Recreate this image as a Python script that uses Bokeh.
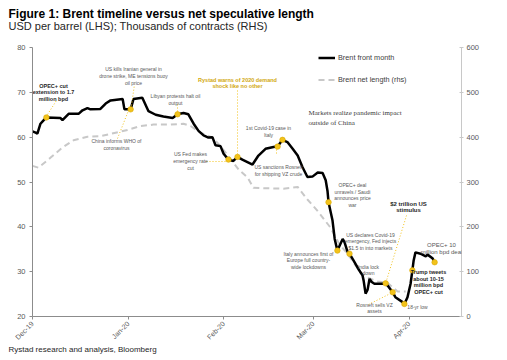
import math
import pandas as pd
from bokeh.plotting import figure
from bokeh.models import (Range1d, LinearAxis, FixedTicker, DatetimeTickFormatter,
                          Label, Legend, LegendItem, Title)
from bokeh.embed import file_html
from bokeh.resources import INLINE

# ---------------- data ----------------
brent_dates = [
    "2019-12-01 00:00", "2019-12-02 00:00", "2019-12-02 14:00", "2019-12-03 14:00", "2019-12-04 12:00",
    "2019-12-05 12:00", "2019-12-10 00:00", "2019-12-10 17:00", "2019-12-12 17:00", "2019-12-15 22:00",
    "2019-12-17 05:00", "2019-12-18 19:00", "2019-12-19 19:00", "2019-12-23 00:00", "2019-12-24 17:00",
    "2019-12-26 07:00", "2019-12-30 05:00", "2019-12-30 19:00", "2020-01-01 19:00", "2020-01-02 17:00",
    "2020-01-05 14:00", "2020-01-07 14:00", "2020-01-09 22:00", "2020-01-12 10:00", "2020-01-15 10:00",
    "2020-01-17 00:00", "2020-01-18 22:00", "2020-01-20 12:00", "2020-01-22 05:00", "2020-01-23 19:00",
    "2020-01-25 10:00", "2020-01-27 00:00", "2020-01-28 07:00", "2020-01-29 07:00", "2020-01-30 22:00",
    "2020-01-31 22:00", "2020-02-02 12:00", "2020-02-04 02:00", "2020-02-05 10:00", "2020-02-07 00:00",
    "2020-02-10 07:00", "2020-02-12 05:00", "2020-02-14 12:00", "2020-02-17 02:00", "2020-02-18 10:00",
    "2020-02-20 00:00", "2020-02-21 14:00", "2020-02-23 07:00", "2020-02-24 22:00", "2020-02-26 12:00",
    "2020-02-28 02:00", "2020-02-29 17:00", "2020-03-02 10:00", "2020-03-04 00:00", "2020-03-05 00:00",
    "2020-03-05 14:00", "2020-03-05 22:00", "2020-03-07 05:00", "2020-03-07 22:00", "2020-03-08 19:00",
    "2020-03-09 12:00", "2020-03-10 12:00", "2020-03-11 02:00", "2020-03-12 02:00", "2020-03-12 17:00",
    "2020-03-14 00:00", "2020-03-15 14:00", "2020-03-16 22:00", "2020-03-17 07:00", "2020-03-17 22:00",
    "2020-03-18 14:00", "2020-03-19 05:00", "2020-03-19 22:00", "2020-03-20 19:00", "2020-03-23 10:00",
    "2020-03-24 10:00", "2020-03-25 10:00", "2020-03-26 17:00", "2020-03-27 14:00", "2020-03-29 22:00",
    "2020-03-30 12:00", "2020-03-31 12:00", "2020-04-01 12:00", "2020-04-02 02:00", "2020-04-02 12:00",
    "2020-04-03 02:00", "2020-04-04 17:00", "2020-04-06 10:00", "2020-04-07 00:00", "2020-04-08 14:00",
    "2020-04-09 07:00",
]
brent_usd = [
    61.3, 61.0, 60.8, 63.0, 63.7,
    64.4, 64.3, 63.8, 65.2, 65.2,
    66.0, 66.5, 66.2, 66.3, 67.5,
    68.2, 68.5, 66.2, 66.2, 68.5,
    68.8, 65.8, 65.0, 64.6, 64.3,
    65.1, 65.4, 65.1, 63.0, 61.4,
    60.4, 59.9, 60.0, 58.2, 58.0,
    56.3, 55.0, 54.7, 55.6, 55.0,
    53.9, 55.9, 57.4, 57.8, 57.9,
    59.4, 58.9, 57.4, 55.9, 53.3,
    51.1, 51.2, 52.1, 52.0, 50.4,
    48.0, 45.5, 41.4, 37.3, 34.7,
    35.8, 37.3, 36.6, 34.4, 34.0,
    32.5, 30.6, 29.2, 28.0, 25.1,
    26.0, 28.4, 27.7, 27.3, 27.3,
    27.4, 26.6, 25.4, 24.3, 23.2,
    22.8, 24.3, 27.3, 30.3, 32.5,
    34.3, 34.0, 33.4, 33.8, 33.0,
    32.1,
]

net_dates = [
    "2019-12-01 00:00", "2019-12-02 22:00", "2019-12-06 19:00", "2019-12-10 17:00", "2019-12-14 07:00",
    "2019-12-18 19:00", "2019-12-23 00:00", "2019-12-27 22:00", "2019-12-31 19:00", "2020-01-05 00:00",
    "2020-01-09 05:00", "2020-01-14 17:00", "2020-01-18 22:00", "2020-01-21 05:00", "2020-01-24 10:00",
    "2020-01-28 07:00", "2020-01-30 22:00", "2020-02-03 05:00", "2020-02-05 19:00", "2020-02-08 17:00",
    "2020-02-10 14:00", "2020-02-15 02:00", "2020-02-20 07:00", "2020-02-24 22:00", "2020-02-28 02:00",
    "2020-03-02 10:00", "2020-03-06 14:00", "2020-03-09 05:00", "2020-03-11 10:00", "2020-03-13 00:00",
    "2020-03-16 07:00", "2020-03-18 22:00", "2020-03-21 19:00", "2020-03-25 00:00", "2020-03-28 07:00",
    "2020-03-30 22:00",
]
net_kcontracts = [
    336, 332, 354, 377, 393,
    401, 402, 410, 416, 425,
    428, 428, 430, 425, 410,
    399, 380, 351, 328, 310,
    287, 286, 285, 289, 261,
    235, 198, 164, 145, 131,
    97, 86, 78, 75, 56,
    56,
]

event_dates = [
    "2019-12-05 12:00", "2020-01-01 19:00", "2020-01-17 00:00", "2020-02-02 12:00", "2020-02-05 10:00",
    "2020-02-18 10:00", "2020-02-20 00:00", "2020-03-05 22:00", "2020-03-08 19:00", "2020-03-12 17:00",
    "2020-03-24 10:00", "2020-03-26 17:00", "2020-03-30 12:00", "2020-04-02 02:00", "2020-04-09 07:00",
]
event_usd = [64.4, 66.2, 65.1, 55.0, 55.6, 57.9, 59.4, 45.5, 34.7, 34.0, 27.4, 25.4, 22.8, 30.3, 32.1]

month_ticks = ["2019-12-01", "2020-01-01", "2020-02-01", "2020-03-01", "2020-04-01"]
left_ticks = [20, 30, 40, 50, 60, 70, 80]
right_ticks = [0, 100, 200, 300, 400, 500, 600]

title_text = "Figure 1: Brent timeline versus net speculative length"
subtitle_text = "USD per barrel (LHS); Thousands of contracts (RHS)"
source_text = "Rystad research and analysis, Bloomberg"
series_names = ["Brent front month", "Brent net length (rhs)"]

# ---------------- helpers ----------------
def ms(s):
    return pd.Timestamp(s).value / 1e6

X0, X1 = ms("2019-12-01"), ms("2020-04-18")
Y0, Y1 = 20, 80
W, H = 507, 360
BL, BR, BT, BB = 32, 46, 47, 44
FW, FH = W - BL - BR, H - BT - BB
PAGE = 0
TEXT_LEFT = 8

def px(x):  # page pixel -> data x
    return X0 + (x - PAGE - BL) / FW * (X1 - X0)

def py(y):  # page pixel -> data y (left axis)
    return Y1 - (y - PAGE - BT) / FH * (Y1 - Y0)

FONT = "Liberation Sans"
GOLD = "#F2C21B"
GOLD_TXT = "#D1A70E"

p = figure(width=W, height=H, x_range=Range1d(X0, X1), y_range=Range1d(Y0, Y1),
           x_axis_type="datetime", output_backend="svg", toolbar_location=None,
           min_border_left=BL, min_border_right=BR, min_border_top=BT, min_border_bottom=BB,
           background_fill_color="white", border_fill_color="white")
p.outline_line_color = None
p.xgrid.visible = False
p.ygrid.visible = False

# titles (subtitle first: later-added titles sit further from the frame)
sub = Title(text=subtitle_text, align="left", offset=TEXT_LEFT - BL, standoff=31,
            text_font=FONT, text_font_size="11px", text_font_style="normal",
            text_color="#262626", text_line_height=1.0)
main = Title(text=title_text, align="left", offset=TEXT_LEFT - BL, standoff=-37,
             text_font=FONT, text_font_size="12px", text_font_style="bold",
             text_color="#000000", text_line_height=1.0)
p.add_layout(sub, "above")
p.add_layout(main, "above")

# x axis
xa = p.xaxis[0]
xa.ticker = FixedTicker(ticks=[ms(d) for d in month_ticks])
xa.formatter = DatetimeTickFormatter(days="%b-%y", months="%b-%y", years="%b-%y",
                                     hours="%b-%y", minutes="%b-%y")
xa.minor_tick_line_color = None
xa.major_tick_in = 0
xa.major_tick_out = 3
xa.axis_line_color = "#8c8c8c"
xa.major_tick_line_color = "#8c8c8c"
xa.major_label_orientation = math.pi / 4
xa.major_label_text_font = FONT
xa.major_label_text_font_size = "7px"
xa.major_label_text_color = "#595959"
xa.major_label_standoff = 3

foot = Title(text=source_text, align="left", offset=TEXT_LEFT - BL, standoff=-14,
             text_font=FONT, text_font_size="8px", text_font_style="normal",
             text_color="#262626", text_line_height=1.0)
p.add_layout(foot, "below")

# left axis
ya = p.yaxis[0]
ya.ticker = FixedTicker(ticks=left_ticks)
ya.minor_tick_line_color = None
ya.major_tick_in = 0
ya.major_tick_out = 3
ya.axis_line_color = "#8c8c8c"
ya.major_tick_line_color = "#8c8c8c"
ya.major_label_text_font = FONT
ya.major_label_text_font_size = "7.5px"
ya.major_label_text_color = "#595959"
ya.major_label_standoff = 4

# right axis
p.extra_y_ranges = {"net": Range1d(0, 600)}
ra = LinearAxis(y_range_name="net", ticker=FixedTicker(ticks=right_ticks))
ra.minor_tick_line_color = None
ra.major_tick_in = 2
ra.major_tick_out = 2
ra.axis_line_color = "#c8c8c8"
ra.major_tick_line_color = "#c8c8c8"
ra.major_label_text_font = FONT
ra.major_label_text_font_size = "7.5px"
ra.major_label_text_color = "#595959"
ra.major_label_standoff = 3
p.add_layout(ra, "right")

# series
r_net = p.line([ms(d) for d in net_dates], net_kcontracts, y_range_name="net",
               line_color="#c8c8c8", line_width=2, line_dash="6 4")
r_brent = p.line([ms(d) for d in brent_dates], brent_usd, line_color="black", line_width=2.5)

# leader lines (page pixel anchors)
leaders = [
    ((47, 114), (56, 100)), ((131, 105), (134, 84)), ((117, 138), (128, 110)),
    ((177, 111), (177, 104)), ((206, 161), (225, 161)), ((237, 90), (237, 154)),
    ((276, 149), (276, 153)), ((406, 215), (386, 280)), ((368, 304), (390, 293)),
]
p.segment(x0=[px(a[0]) for a, b in leaders], y0=[py(a[1]) for a, b in leaders],
          x1=[px(b[0]) for a, b in leaders], y1=[py(b[1]) for a, b in leaders],
          line_color=GOLD, line_width=1, line_dash="1 2")

p.scatter([ms(d) for d in event_dates], event_usd, size=5.5, fill_color=GOLD,
          line_color="#D9A800", line_width=0.6)

# legend
legend = Legend(items=[LegendItem(label=series_names[0], renderers=[r_brent]),
                       LegendItem(label=series_names[1], renderers=[r_net])],
                location=(286, 228), orientation="vertical")
legend.border_line_color = None
legend.background_fill_alpha = 0
legend.padding = 0
legend.margin = 0
legend.spacing = 5
legend.glyph_height = 17
legend.glyph_width = 17
legend.label_height = 17
legend.label_standoff = 3
legend.label_text_font = FONT
legend.label_text_font_size = "7.3px"
legend.label_text_color = "#404040"
p.add_layout(legend)

# text helper
def note(text, x, y, size="5px", color="#595959", bold=False, align="center", font=FONT, lh=1.15):
    p.add_layout(Label(x=px(x), y=py(y), text=text, text_align=align, text_baseline="middle",
                       text_font=font, text_font_size=size, text_color=color,
                       text_font_style="bold" if bold else "normal", text_line_height=lh))

note("OPEC+ cut\nextension to 1.7\nmillion bpd", 53, 92, size="5.5px", color="#262626", bold=True)
note("US kills Iranian general in\ndrone strike, ME tensions buoy\noil price", 133, 75.5)
note("China informs WHO of\ncoronavirus", 116, 144)
note("Libyan protests halt oil\noutput", 175, 99)
note("Rystad warns of 2020 demand\nshock like no other", 237, 82.5, size="5.5px", color=GOLD_TXT, bold=True)
note("1st Covid-19 case in\nItaly", 268, 131)
note("US Fed makes\nemergency rate\ncut", 190, 160.5)
note("US sanctions Rosneft\nfor shipping VZ crude", 278, 170)
note("Markets realize pandemic impact\noutside of China", 308, 117.5, size="7px", color="#404040",
     align="left", font="Liberation Serif", lh=1.25)
note("OPEC+ deal\nunravels / Saudi\nannounces price\nwar", 352, 194.5)
note("$2 trillion US\nstimulus", 408, 206.5, size="6px", color="#262626", bold=True)
note("US declares Covid-19\nemergency, Fed injects\n$1.5 tn into markets", 370, 241)
note("Italy announces first of\nEurope full country-\nwide lockdowns", 308, 260)
note("India lock\ndown", 368, 269.5)
note("Rosneft sells VZ\nassets", 374, 307.5)
note("18-yr low", 417, 306)
note("Trump tweets\nabout 10-15\nmillion bpd\nOPEC+ cut", 428, 281.5, size="5.5px", color="#262626", bold=True)
note("OPEC+ 10\nmillion bpd deal", 441, 248, size="6px")

open("out.html", "w").write(file_html(p, INLINE))
